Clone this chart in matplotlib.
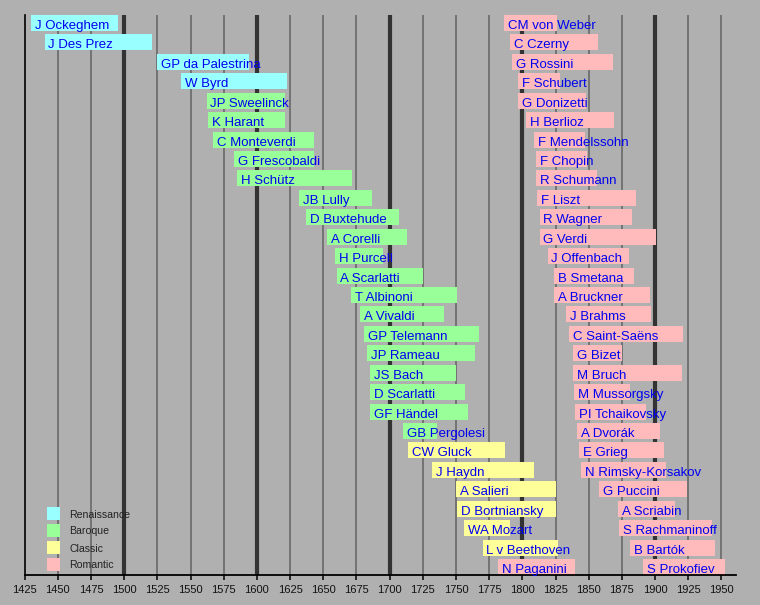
import matplotlib
matplotlib.use("Agg")
import matplotlib.pyplot as plt
from matplotlib.patches import Rectangle

plt.rcParams['font.family'] = ['Liberation Sans', 'DejaVu Sans']

# ---- data ----
left_names = ["J Ockeghem", "J Des Prez", "GP da Palestrina", "W Byrd",
              "JP Sweelinck", "K Harant", "C Monteverdi", "G Frescobaldi", "H Schütz",
              "JB Lully", "D Buxtehude", "A Corelli", "H Purcell", "A Scarlatti",
              "T Albinoni", "A Vivaldi", "GP Telemann", "JP Rameau", "JS Bach",
              "D Scarlatti", "GF Händel", "GB Pergolesi",
              "CW Gluck", "J Haydn", "A Salieri", "D Bortniansky", "WA Mozart",
              "L v Beethoven", "N Paganini"]
left_from = [1430, 1440, 1525, 1543,
             1562, 1563, 1567, 1583, 1585,
             1632, 1637, 1653, 1659, 1660,
             1671, 1678, 1681, 1683, 1685,
             1685, 1685, 1710,
             1714, 1732, 1750, 1751, 1756,
             1770, 1782]
left_till = [1495, 1521, 1594, 1623,
             1621, 1621, 1643, 1643, 1672,
             1687, 1707, 1713, 1695, 1725,
             1751, 1741, 1767, 1764, 1750,
             1757, 1759, 1736,
             1787, 1809, 1825, 1825, 1791,
             1827, 1840]
left_period = ["Renaissance"] * 4 + ["Baroque"] * 18 + ["Classic"] * 6 + ["Romantic"]

right_names = ["CM von Weber", "C Czerny", "G Rossini", "F Schubert", "G Donizetti",
               "H Berlioz", "F Mendelssohn", "F Chopin", "R Schumann", "F Liszt",
               "R Wagner", "G Verdi", "J Offenbach", "B Smetana", "A Bruckner",
               "J Brahms", "C Saint-Saëns", "G Bizet", "M Bruch", "M Mussorgsky",
               "PI Tchaikovsky", "A Dvorák", "E Grieg", "N Rimsky-Korsakov",
               "G Puccini", "A Scriabin", "S Rachmaninoff", "B Bartók", "S Prokofiev"]
right_from = [1786, 1791, 1792, 1797, 1797,
              1803, 1809, 1810, 1810, 1811,
              1813, 1813, 1819, 1824, 1824,
              1833, 1835, 1838, 1838, 1839,
              1840, 1841, 1843, 1844,
              1858, 1872, 1873, 1881, 1891]
right_till = [1826, 1857, 1868, 1828, 1848,
              1869, 1847, 1849, 1856, 1886,
              1883, 1901, 1880, 1884, 1896,
              1897, 1921, 1875, 1920, 1881,
              1893, 1904, 1907, 1908,
              1924, 1915, 1943, 1945, 1953]
right_period = ["Romantic"] * 29

periods = ["Renaissance", "Baroque", "Classic", "Romantic"]
period_colors = {"Renaissance": "#99FFFF", "Baroque": "#99FF99",
                 "Classic": "#FFFF99", "Romantic": "#FFBBBB"}

tick_years = list(range(1425, 1951, 25))
major_years = [1500, 1600, 1700, 1800, 1900]

# ---- figure ----
BG = "#B0B0B0"
W, H = 760, 605
fig = plt.figure(figsize=(W / 100, H / 100), dpi=100, facecolor=BG)
ax = fig.add_axes([24.7 / W, 1 - 575 / H, (736 - 24.7) / W, (575 - 15) / H])
ax.set_facecolor(BG)

n_rows = 29
bar_h = 0.822
ax.set_xlim(1425, 1961)
ax.set_ylim(n_rows - 1 + bar_h / 2, -bar_h / 2)

# grid lines
for yr in tick_years[1:]:
    if yr in major_years:
        ax.axvline(yr, color="#333333", lw=3.0, zorder=1)
    else:
        ax.axvline(yr, color="#6E6E6E", lw=1.3, zorder=1)

def draw_column(names, starts, ends, pers):
    for i, (nm, s, e, p) in enumerate(zip(names, starts, ends, pers)):
        ax.barh(i, e - s, left=s, height=bar_h, color=period_colors[p],
                edgecolor="none", zorder=2)
        ax.annotate(nm, xy=(s, i + 0.31), xytext=(2.8, 0), textcoords="offset points",
                    ha="left", va="baseline", color="#0000F0", fontsize=9.5,
                    zorder=3, annotation_clip=False)

draw_column(left_names, left_from, left_till, left_period)
draw_column(right_names, right_from, right_till, right_period)

# axes styling
for side in ["top", "right"]:
    ax.spines[side].set_visible(False)
ax.spines["left"].set_color("black")
ax.spines["left"].set_linewidth(1.2)
ax.spines["bottom"].set_color("black")
ax.spines["bottom"].set_linewidth(1.3)
ax.set_xticks(tick_years)
ax.set_xticklabels([str(t) for t in tick_years], fontsize=8, color="#111111")
ax.tick_params(axis="x", direction="out", length=3.6, width=1.1, color="black", pad=3.5)
ax.set_yticks([])

# legend
for k, p in enumerate(periods):
    top = 507 + k * 17
    fig.patches.append(Rectangle((47 / W, 1 - (top + 13) / H), 13 / W, 13 / H,
                                 transform=fig.transFigure, facecolor=period_colors[p],
                                 edgecolor="none", zorder=5))
    fig.text(69 / W, 1 - (top + 7.5) / H, p, fontsize=7.6, color="#222222",
             ha="left", va="center", zorder=6)

fig.savefig("out.png", dpi=100, facecolor=BG)
